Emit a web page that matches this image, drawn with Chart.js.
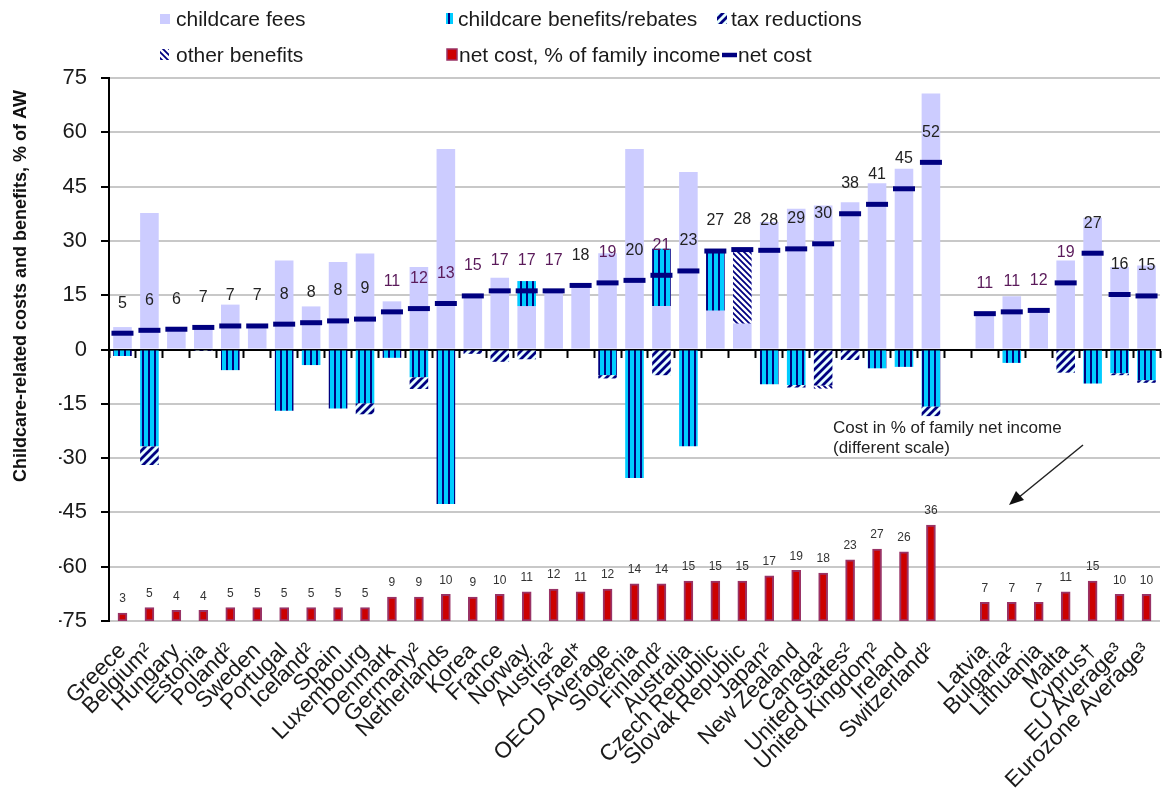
<!DOCTYPE html>
<html><head><meta charset="utf-8">
<script src="https://cdn.jsdelivr.net/npm/chart.js@4/dist/chart.umd.min.js"></script>
<style>html,body{margin:0;padding:0;background:#fff;overflow:hidden;}#wrap{position:relative;width:1163px;height:791px;overflow:hidden;}</style>
</head><body><div id="wrap"><canvas id="c" width="1176" height="791"></canvas></div>
<script>
// ---------- DATA ----------
const categories = ['Greece','Belgium²','Hungary','Estonia','Poland²','Sweden','Portugal','Iceland²','Spain','Luxembourg','Denmark','Germany²','Netherlands','Korea','France','Norway','Austria²','Israel*','OECD Average','Slovenia','Finland²','Australia','Czech Republic','Slovak Republic','Japan²','New Zealand','Canada²','United States²','United Kingdom²','Ireland','Switzerland²','','Latvia','Bulgaria²','Lithuania','Malta','Cyprus†','EU Average³','Eurozone Average³'];
const childcareFees = [6.2,37.7,6.0,6.7,12.4,6.6,24.6,11.9,24.2,26.5,13.3,22.8,55.4,15.4,19.8,18.9,16.4,17.8,26.6,55.4,27.8,49.0,27.2,27.6,35.2,38.9,39.8,40.7,45.9,49.9,70.7,null,9.9,14.7,11.0,24.6,36.4,22.8,23.2];
const childcareBenefits = [[0,-1.8],[0,-26.8],null,null,[0,-5.7],null,[0,-16.9],[0,-4.3],[0,-16.3],[0,-14.9],[0,-2.3],[0,-7.7],[0,-42.7],null,null,[12.0,18.9],null,null,[0,-7.1],[0,-35.5],[12.0,27.8],[0,-26.7],[10.8,27.2],null,[0,-9.6],[0,-9.8],null,null,[0,-5.2],[0,-4.8],[0,-15.8],null,null,[0,-3.7],null,null,[0,-9.4],[0,-6.6],[0,-8.5]];
const taxReductions = [null,[-26.8,-31.9],null,[0,-0.4],null,null,null,null,null,[-14.9,-17.9],null,[-7.7,-10.9],null,[0,-1.2],[0,-3.4],[0,-2.7],null,null,[-7.1,-8.0],null,[0,-7.1],null,null,null,null,[-9.8,-10.5],[0,-10.0],[0,-2.9],null,null,[-15.8,-18.4],null,null,null,null,[0,-6.4],null,[-6.6,-7.1],[-8.5,-9.2]];
const otherBenefits = [null,null,null,null,null,null,null,null,null,null,null,null,null,null,null,null,null,null,null,null,null,null,null,[7.2,27.6],null,null,[-10.0,-10.8],null,null,null,null,null,null,null,null,null,null,null,null];
const netCost = [4.5,5.3,5.6,6.1,6.5,6.5,7.0,7.4,7.9,8.4,10.4,11.3,12.7,14.8,16.2,16.2,16.2,17.7,18.4,19.1,20.5,21.7,27.2,27.6,27.4,27.8,29.2,37.5,40.1,44.4,51.7,null,9.9,10.4,10.8,18.4,26.6,15.2,14.8];
const netCostLabels = [5,6,6,7,7,7,8,8,8,9,11,12,13,15,17,17,17,18,19,20,21,23,27,28,28,29,30,38,41,45,52,null,11,11,12,19,27,16,15];
const netCostIncome = [3,5,4,4,5,5,5,5,5,5,9,9,10,9,10,11,12,11,12,14,14,15,15,15,17,19,18,23,27,26,36,null,7,7,7,11,15,10,10];
const yTicks = [75,60,45,30,15,0,-15,-30,-45,-60,-75];

// ---------- STYLES ----------
const FONT = "'Liberation Sans', Arial, sans-serif";
const purpleIdx = [10,11,12,13,14,15,16,18,20,32,33,34,35];
function makePattern(w,h,draw){const c=document.createElement('canvas');c.width=w;c.height=h;const g=c.getContext('2d');draw(g,w,h);return g.createPattern(c,'repeat');}
const benefitPat = makePattern(6,6,g=>{g.fillStyle='#00ccff';g.fillRect(0,0,6,6);g.fillStyle='#000080';g.fillRect(4,0,2,6);});
const taxPat = makePattern(8,8,g=>{g.fillStyle='#e6ffff';g.fillRect(0,0,8,8);g.strokeStyle='#000080';g.lineWidth=2.8;g.beginPath();for(let k=-8;k<=16;k+=8){g.moveTo(k-1,9);g.lineTo(k+9,-1);}g.stroke();});
const otherPat = makePattern(6,6,g=>{g.fillStyle='#ffffff';g.fillRect(0,0,6,6);g.strokeStyle='#000080';g.lineWidth=1.8;g.beginPath();for(let k=-6;k<=12;k+=6){g.moveTo(k-1,-1);g.lineTo(k+7,7);}g.stroke();});

const BAR = 0.69;

const overlayPlugin = {
  id:'overlay',
  afterDatasetsDraw(chart){
    const ctx = chart.ctx, xs = chart.scales.x, ys = chart.scales.y, y2 = chart.scales.y2;
    ctx.save();
    ctx.textAlign='center'; ctx.textBaseline='middle';
    ctx.font = '16px '+FONT;
    netCostLabels.forEach((v,i)=>{ if(v==null) return;
      ctx.fillStyle = purpleIdx.includes(i) ? '#5a1a5a' : '#222';
      ctx.fillText(String(v), xs.getPixelForValue(i), ys.getPixelForValue(netCost[i]) - 30);
    });
    ctx.font = '12px '+FONT; ctx.fillStyle='#333';
    netCostIncome.forEach((v,i)=>{ if(v==null) return;
      ctx.fillText(String(v), xs.getPixelForValue(i), y2.getPixelForValue(v) - 14);
    });
    ctx.restore();
  },
  afterDraw(chart){
    const ctx = chart.ctx;
    ctx.save();
    ctx.translate(21, 286); ctx.rotate(-Math.PI/2);
    ctx.font = 'bold 18px '+FONT; ctx.fillStyle='#111'; ctx.textAlign='center'; ctx.textBaseline='middle';
    ctx.fillText('Childcare-related costs and benefits, % of AW', 0, 0);
    ctx.restore();
    ctx.save();
    ctx.textBaseline='middle'; ctx.textAlign='left';
    ctx.fillStyle='#ccccff'; ctx.fillRect(160,14,10,10);
    ctx.fillStyle=benefitPat; ctx.fillRect(446,13,7,11);
    ctx.fillStyle=taxPat; ctx.fillRect(717,13,10,11);
    ctx.fillStyle=otherPat; ctx.fillRect(160,49,9,11);
    ctx.fillStyle='#cc0000'; ctx.fillRect(447,49,10,11); ctx.strokeStyle='#993366'; ctx.lineWidth=1.5; ctx.strokeRect(447,49,10,11);
    ctx.strokeStyle='#000080'; ctx.lineWidth=4.5; ctx.beginPath(); ctx.moveTo(722,55); ctx.lineTo(737,55); ctx.stroke();
    ctx.fillStyle='#1a1a1a'; ctx.font = '21px '+FONT;
    ctx.fillText('childcare fees',176,20);
    ctx.fillText('childcare benefits/rebates',458,20);
    ctx.fillText('tax reductions',731,20);
    ctx.fillText('other benefits',176,56);
    ctx.fillText('net cost, % of family income',459,56);
    ctx.fillText('net cost',738,56);
    ctx.font = '17px '+FONT; ctx.fillStyle='#222';
    ctx.fillText('Cost in % of family net income',833,428);
    ctx.fillText('(different scale)',833,448);
    ctx.strokeStyle='#222'; ctx.lineWidth=1.5; ctx.beginPath(); ctx.moveTo(1083,445); ctx.lineTo(1018,498); ctx.stroke();
    ctx.fillStyle='#111'; ctx.beginPath(); ctx.moveTo(1009,505); ctx.lineTo(1016,491); ctx.lineTo(1024,500); ctx.closePath(); ctx.fill();
    ctx.restore();
  }
};

new Chart(document.getElementById('c'), {
  type:'bar',
  data:{
    labels: categories,
    datasets:[
      {label:'childcare fees', data:childcareFees, backgroundColor:'#ccccff', grouped:false, categoryPercentage:1, barPercentage:BAR, order:6, xAxisID:'x', yAxisID:'y'},
      {label:'net cost, % of family income', data:netCostIncome, backgroundColor:'#cc0000', borderColor:'#993366', borderWidth:2, borderSkipped:false, grouped:false, barThickness:9, order:5, xAxisID:'x', yAxisID:'y2'},
      {label:'childcare benefits/rebates', data:childcareBenefits, backgroundColor:benefitPat, grouped:false, categoryPercentage:1, barPercentage:BAR, order:4, xAxisID:'x', yAxisID:'y'},
      {label:'tax reductions', data:taxReductions, backgroundColor:taxPat, grouped:false, categoryPercentage:1, barPercentage:BAR, order:3, xAxisID:'x', yAxisID:'y'},
      {label:'other benefits', data:otherBenefits, backgroundColor:otherPat, grouped:false, categoryPercentage:1, barPercentage:BAR, order:2, xAxisID:'x', yAxisID:'y'},
      {type:'line', label:'net cost', data:netCost, showLine:false, pointStyle:'line', pointRadius:11, pointHoverRadius:11, pointBorderWidth:5, pointBorderColor:'#000080', borderColor:'#000080', order:1, xAxisID:'x', yAxisID:'y'}
    ]
  },
  options:{
    responsive:false, animation:false, events:[],
    layout:{padding:{left:59, right:0, top:78, bottom:0}},
    plugins:{legend:{display:false}, tooltip:{enabled:false}},
    scales:{
      x:{type:'category', position:'bottom', offset:true, grid:{display:false}, border:{display:false},
         ticks:{autoSkip:false, maxRotation:45, minRotation:45, padding:9, color:'#1a1a1a', font:{family:FONT, size:22.5}},
         afterFit(s){ s.height = 170; }},
      x0:{axis:'x', type:'category', position:{y:0}, offset:true,
          grid:{offset:true, drawOnChartArea:false, drawTicks:true, tickLength:7, tickColor:'#000', tickWidth:2, color:'#000'},
          border:{display:true, color:'#000', width:2}, ticks:{display:false}},
      y:{type:'linear', position:'left', min:-75, max:75,
         afterBuildTicks(s){ s.ticks = yTicks.map(v=>({value:v})); },
         ticks:{padding:14, color:'#1a1a1a', font:{family:FONT, size:22}},
         grid:{color:'#c8c8c8', lineWidth:2, tickColor:'#000', tickLength:8, tickWidth:2},
         border:{color:'#000', width:2},
         afterFit(s){ s.width = 50; }},
      y2:{type:'linear', display:false, min:0, max:204}
    }
  },
  plugins:[overlayPlugin]
});
</script>
</body></html>
